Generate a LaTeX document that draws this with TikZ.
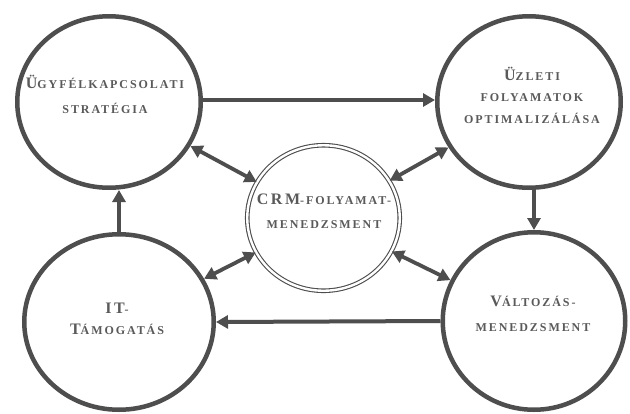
\documentclass[tikz,border=0pt]{standalone}
\usepackage{fontspec}
\setmainfont{Liberation Serif}
\newfontfamily\labfont{Liberation Serif}[LetterSpace=16]
\usetikzlibrary{arrows.meta,shapes.geometric}
\definecolor{ink}{HTML}{4E4E4E}
\definecolor{txt}{HTML}{5A5A5A}
\newcommand{\myinitial}[1]{{\fontsize{16}{16}\selectfont #1}}
\tikzset{
  bigc/.style={ellipse, draw=ink, line width=4.5pt, inner sep=0pt},
  midc/.style={ellipse, draw=ink, double=white, double distance=2.4pt, line width=1.1pt,
    minimum width=152.5pt, minimum height=145.5pt, inner sep=0pt},
  lab/.style={text=txt, align=center, inner sep=0pt},
  tip/.tip={Triangle[length=12pt,width=13pt]},
  flow/.style={draw=ink, line width=4pt, -tip},
  both/.style={draw=ink, line width=3.8pt, tip-tip}
}
\newcommand{\lf}[1]{\labfont\bfseries\fontsize{12}{#1}\selectfont}
\begin{document}
\begin{tikzpicture}[x=1pt,y=-1pt]
\useasboundingbox (0,0) rectangle (630,413);
\fill[white] (0,0) rectangle (630,413);
\node[bigc, minimum width=183.5pt, minimum height=171.5pt] (tl) at (109,102) {};
\node[bigc, minimum width=183.5pt, minimum height=171.5pt] (tr) at (529,102) {};
\node[bigc, minimum width=189.5pt, minimum height=175.5pt] (bl) at (119,322) {};
\node[bigc, minimum width=182.5pt, minimum height=177.5pt] (br) at (534,321) {};
\node[midc] (c) at (323.5,218) {};
\node[lab, font=\lf{25pt}] (tlt) at (105,94) {\myinitial{Ü}GYFÉLKAPCSOLATI\\STRATÉGIA};
\node[lab, font=\lf{21.5pt}] (trt) at (532,95) {\myinitial{Ü}ZLETI\\FOLYAMATOK\\OPTIMALIZÁLÁSA};
\node[lab, font=\lf{24pt}] (ct) at (324,211) {\myinitial{CRM}-FOLYAMAT-\\MENEDZSMENT};
\node[lab, font=\lf{21pt}] (blt) at (117,319) {\myinitial{IT}-\\\myinitial{T}ÁMOGATÁS};
\node[lab, font=\lf{25pt}] (brt) at (533,314) {\myinitial{V}ÁLTOZÁS-\\MENEDZSMENT};
\draw[flow] (tl.east |- 0,100) -- (tr.west |- 0,100);
\draw[flow] (br.north |- tr.south) -- (br.north);
\draw[flow] (br.west) -- (bl.east);
\draw[flow] (bl.north) -- (bl.north |- tl.south);
\draw[both] (tl) -- (c);
\draw[both] (tr) -- (c);
\draw[both] (bl) -- (c);
\draw[both] (br) -- (c);
\end{tikzpicture}
\end{document}
